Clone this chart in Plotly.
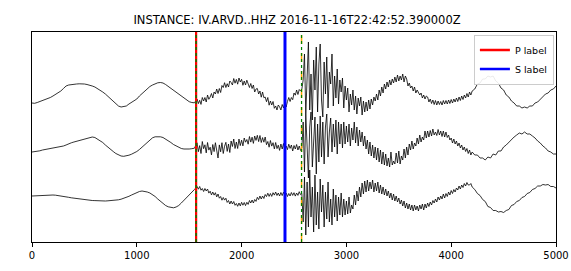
import plotly.graph_objects as go

# ---------------- data: amplitudes (arbitrary units) ----------------
# each trace: smooth pre-event part (samples 0..1550, step 25),
# noisy part (samples 1575..4200, step 12.5), tail (samples 4225..5000, step 25)
SMOOTH_STEP = 25
NOISY_START = 1575
NOISY_STEP = 12.5
TAIL_END = 5000
TAIL_STEP = 25

E_SMOOTH = [
    -1, -1.3, -0.5, 0.5, 1.5, 2, 3, 4.5,
    6, 7.5, 9, 11, 13.5, 16, 17, 17.5,
    17.8, 18, 18.2, 18.3, 18, 17.5, 17, 16,
    15, 13.5, 12, 10, 8, 5.5, 3, 0.5,
    -2, -4, -5, -4.8, -4, -2, -0.5, 1,
    3, 6, 8.5, 11, 13.5, 15.5, 17, 18.5,
    19.2, 19.5, 19, 17.5, 15.5, 13.5, 11.5, 9.5,
    7.5, 5.5, 3.5, 1.5, 0.3, -0.5, -0.8,
]
E_NOISY = [
    3, -1.6, 1.7, -2.4, 4.5, 1, 4.5, 0, 7, 2.7, 5, 8.5, 4, 10, 8, 13,
    8.5, 13.5, 9.5, 16.5, 14.5, 19.3, 14.5, 18.3, 15, 21, 19.5, 17, 23.5, 18.8, 22.6, 17.8,
    24, 20, 22.7, 16.7, 21, 17, 21.8, 17.2, 14.5, 18.5, 13.5, 17, 10, 13, 13.5, 8,
    11, 4.8, 10, 4.3, 5, 0.3, 4.5, -3.2, 1, -3, 0.5, -6.3, -4, -8, -3, -4.8,
    -8, -2.5, -6, -0.7, -5, 0.5, 4.5, 0.5, 4.5, 2.3, 9, 6.8, 12, 7.5, 12.5, 11,
    13, 22, 48, -12, 35, 60, -8, 28, -18, 42, 12, 55, -10, 38, 58, 2,
    -15, 40, 8, 45, -6, 30, 18, 48, -4, 26, 4, 33, -2, 22, 10, 24,
    -6, 16, 2, 14, -10, 8, -3, 12, -8, 6, -12, 4, -4, 5, -13, 1,
    -10, 0, -9, 2, -7, 3, -3, 5, 1, 8, 2, 12, 6, 15, 9, 18,
    13, 20, 15, 22, 17, 23, 19, 25, 20, 27, 21, 26, 22, 28, 20, 26,
    23, 16, 19, 14, 16, 11, 15, 9, 12, 10, 7, 9, 4, 7, 3, 6,
    5, 0, 3, -1.5, 2, -2.5, 1.5, -3, 1, -2.5, 0.5, -3, 1.5, -2, 1.5, -2,
    2, -1.5, 2.5, -1, 3, 0, 4, 0.5, 5, 1.5, 6, 2.5, 7, 4, 8.5, 5,
    10, 7, 11,
]
E_TAIL = [
    13, 18, 19, 23, 23, 26, 25,
    26, 21, 19, 14, 12, 7, 5, 1,
    -1, -4, -4, -6, -5, -6, -4, -4,
    -1, 0, 3, 5, 8, 9, 12, 13,
    16,
]

N_SMOOTH = [
    0, 0.3, 0.8, 1.2, 2, 2.5, 3, 3.5,
    3.8, 4.2, 4.8, 5.2, 6, 7, 8.3, 9.2,
    10, 10.8, 11.5, 12.2, 13, 14, 14.8, 15,
    14.5, 13, 11.5, 9.5, 7, 4.5, 2.5, 0.5,
    -1.5, -3, -4, -4.3, -4, -3.2, -2.2, -1,
    0.5, 2.5, 5, 7.5, 10, 12.5, 14.2, 15.2,
    15.5, 15.2, 14.5, 13, 11, 9.5, 7.5, 6,
    4.5, 3.5, 3, 2.8, 3, 3.3, 3.8,
]
N_NOISY = [
    9.2, 0.3, 6.4, -1.5, 10.5, 3.3, 7.2, -0.9, 9.5, 1.9, 4.8, -2.9, 7.5, 0.4, 9.3, 1.1,
    -6, 7.1, 0.2, 9.3, -1.5, 5.8, 9.7, 0.6, 8, -0.5, 11, 5.5, 13, 3.5, 10, 3.5,
    13, 6.4, 11.8, 6.1, 14, 9.8, 12.5, 7.8, 15.5, 9.9, 14.8, 8.6, 16, 11.6, 16.7, 10.4,
    16.5, 9.5, 14.4, 9.8, 15, 7.3, 10.5, 4.8, 11.5, 5.9, 9.3, 3.1, 9.5, 3.4, 6.8, 1.6,
    8, 3, 8.5, 2, 6, 2.4, 7.8, 3.6, 7, 1, 6.5, 3, 7.5, 2, 6, 1.5,
    4, 30, -20, 38, 5, -26, 25, 40, -15, 10, 35, -22, 28, -10, 36, -5,
    30, -12, 25, 38, -5, 20, 34, 0, 28, 5, 32, -2, 30, 8, 28, 4,
    30, 8, 26, 10, 28, 6, 24, 12, 30, 9, 25, 6, 22, 10, 20, 6,
    16, 3, 12, -2, 10, -4, 7, -6, 5, -8, 4, -10, 2, -12, 0, -13,
    -2, -14, -6, -15, 0, -13, -9, -12, -1, -11, 1, -12, -4, -8, 3, -6,
    5, -3, 8, 2, 11, 3, 9, 6, 14, 8, 17, 10, 15, 12, 21, 14,
    21, 15, 21.5, 16, 23, 17, 20, 16.5, 22.5, 17, 21, 15.5, 21, 15, 20, 14.5,
    17, 12, 14, 9, 13, 8, 11, 6, 9, 4, 7, 2, 5, 0.5, 3.5, -1.5,
    2, -3, 0,
]
N_TAIL = [
    -3, -3, -6, -6, -8, -5, -6,
    -2, -3, 1, 1, 5, 7, 10, 13,
    15, 17, 19, 18, 20, 18, 18, 16,
    14, 11, 9, 6, 4, 1, 0, -2,
    -2,
]

Z_SMOOTH = [
    1, 1.2, 1, 1.3, 1.5, 1.4, 1.7, 1.8,
    2, 1.8, 1.5, 1.2, 0.8, 0.3, -0.3, -0.8,
    -1.2, -1.6, -2, -2.4, -2.8, -3, -3.2, -3.5,
    -3.6, -3.8, -3.9, -4, -4, -3.8, -3.7, -3.5,
    -3.2, -2.8, -2.2, -1.4, -0.5, 0.7, 2, 3.3,
    4.5, 5.5, 6, 5.8, 5, 4, 2.5, 0.5,
    -2, -4.5, -6.5, -8.5, -9.8, -10.5, -10.8, -10,
    -8.5, -6, -3.5, -0.5, 2.5, 5, 7.5,
]
Z_NOISY = [
    10.5, 7.8, 10.5, 6.8, 8.5, 5.5, 8.5, 6, 8, 3.9, 5.8, 2.1, 5, 1.9, 4.3, 0.1,
    3, -1.2, 0.5, -3.2, -0.5, -3.1, -1.2, -5.4, -3.5, -7, -4, -7, -4.5, -8.3, -6.5, -9.3,
    -6, -8.9, -5.3, -8.2, -5.5, -8.6, -5.3, -7.4, -3.5, -6, -3, -6, -2.5, -4.4, -0.3, -2.6,
    1, -2, 1, -1.5, 2.5, 0.4, 3.8, 0.6, 3.5, 0.6, 4.3, 1.9, 5, 1.5, 4, 1,
    4.5, 1.4, 4.8, 1.6, 4, 0.5, 3.5, 1, 4.5, 1.6, 4.3, 0.9, 4, 1.6, 5.3, 2.4,
    3.5, -25, 20, -38, 15, -30, 27, -20, 10, -35, 22, -28, 5, -32, 18, -15,
    12, -30, 5, -22, 15, -25, -2, -28, 8, -20, 2, -24, 0, -18, 4, -20,
    -2, -18, -4, -17, 0, -16, -8, -12, 2, -8, 6, -4, 10, 0, 14, 3,
    16, 5, 17, 6, 15, 8, 17, 5, 14, 6, 15, 4, 12, 3, 10, 2,
    8, 1, 6, -1, 4, -3, 3, -4, 1, -5, -1, -7, -3, -9, -4, -11,
    -6, -12, -7, -13, -8, -14, -8, -13, -9, -14, -8, -12, -7, -13, -7, -11,
    -6, -9.5, -5, -8, -3.5, -6, -2, -5, 0, -3, 1, -2, 3, -1, 3.5, 0.5,
    5, 2, 6.5, 3.5, 7.5, 5, 9, 7, 11, 8, 12, 9.5, 13.5, 11, 14.5, 12,
    12, 13.5, 10,
]
Z_TAIL = [
    7.5, 3.5, 1.5, -2.5, -4.5, -9.5, -10.5,
    -13.5, -13.5, -15, -14.5, -15.5, -13.5, -12.5, -8.5,
    -7.5, -4.5, -3.5, -0.5, 0.5, 3.5, 4.5, 7.5,
    8.5, 11, 11, 12.5, 12, 12.5, 10.5, 10.5,
    9,
]

TRACE_OFFSETS = [140, 90, 45]
P_LABEL = 1566
S_LABEL = 2414
PRED_P = 1566
PRED_S = 2572
X_TICKS = [0, 1000, 2000, 3000, 4000, 5000]
TITLE = "INSTANCE: IV.ARVD..HHZ 2016-11-16T22:42:52.390000Z"


def trace_xy(smooth, noisy, tail, off):
    xs = [SMOOTH_STEP * i for i in range(len(smooth))]
    xs += [NOISY_START + NOISY_STEP * i for i in range(len(noisy))]
    xs += [TAIL_END - TAIL_STEP * (len(tail) - 1 - i) for i in range(len(tail))]
    ys = [v + off for v in smooth + noisy + tail]
    return xs, ys


fig = go.Figure()
for parts, off in zip([(E_SMOOTH, E_NOISY, E_TAIL),
                       (N_SMOOTH, N_NOISY, N_TAIL),
                       (Z_SMOOTH, Z_NOISY, Z_TAIL)], TRACE_OFFSETS):
    xs, ys = trace_xy(*parts, off)
    fig.add_trace(go.Scatter(x=xs, y=ys, mode="lines",
                             line=dict(color="black", width=0.8),
                             showlegend=False, hoverinfo="skip"))

# vertical pick lines
fig.add_vline(x=P_LABEL, line=dict(color="red", width=2.2), layer="above")
fig.add_vline(x=S_LABEL, line=dict(color="blue", width=3), layer="above")
fig.add_vline(x=PRED_S, line=dict(color="orange", width=1.5, dash="dash"), layer="above")
fig.add_vline(x=PRED_P, line=dict(color="green", width=1.5, dash="dot"), layer="above")
fig.add_vline(x=PRED_S, line=dict(color="green", width=1.2, dash="dot"), layer="above")

# legend entries
fig.add_trace(go.Scatter(x=[None], y=[None], mode="lines", name="P label",
                         line=dict(color="red", width=2.5)))
fig.add_trace(go.Scatter(x=[None], y=[None], mode="lines", name="S label",
                         line=dict(color="blue", width=2.5)))

W, H = 571, 271
L, R, T, B = 32, 15, 32, 29
fig.update_layout(
    width=W, height=H,
    margin=dict(l=L, r=R, t=T, b=B, autoexpand=False),
    paper_bgcolor="white", plot_bgcolor="white",
    font=dict(family="DejaVu Sans", size=10, color="black"),
    title=dict(text=TITLE, x=(L + (W - L - R) / 2 + 3) / W, xanchor="center",
               y=1 - 20 / H, yanchor="middle", font=dict(size=11.5)),
    legend=dict(x=0.996, y=0.988, xanchor="right", yanchor="top",
                bgcolor="rgba(255,255,255,0.9)", bordercolor="#cccccc",
                borderwidth=1, font=dict(size=9.5), itemwidth=30,
                tracegroupgap=0),
    showlegend=True,
)
fig.update_xaxes(range=[0, 5000], tickvals=X_TICKS, ticks="outside", ticklen=4,
                 tickcolor="black", showgrid=False, zeroline=False, automargin=False,
                 showline=True, linecolor="black", linewidth=1, mirror=True,
                 tickfont=dict(size=10))
fig.update_yaxes(range=[0, 210], showticklabels=False, ticks="", showgrid=False,
                 zeroline=False, showline=True, linecolor="black", linewidth=1,
                 mirror=True, automargin=False)

fig.write_html("out.html",
               config={"displayModeBar": False},
               post_script="document.body.style.margin='0';"
                           "document.body.style.overflow='hidden';")
